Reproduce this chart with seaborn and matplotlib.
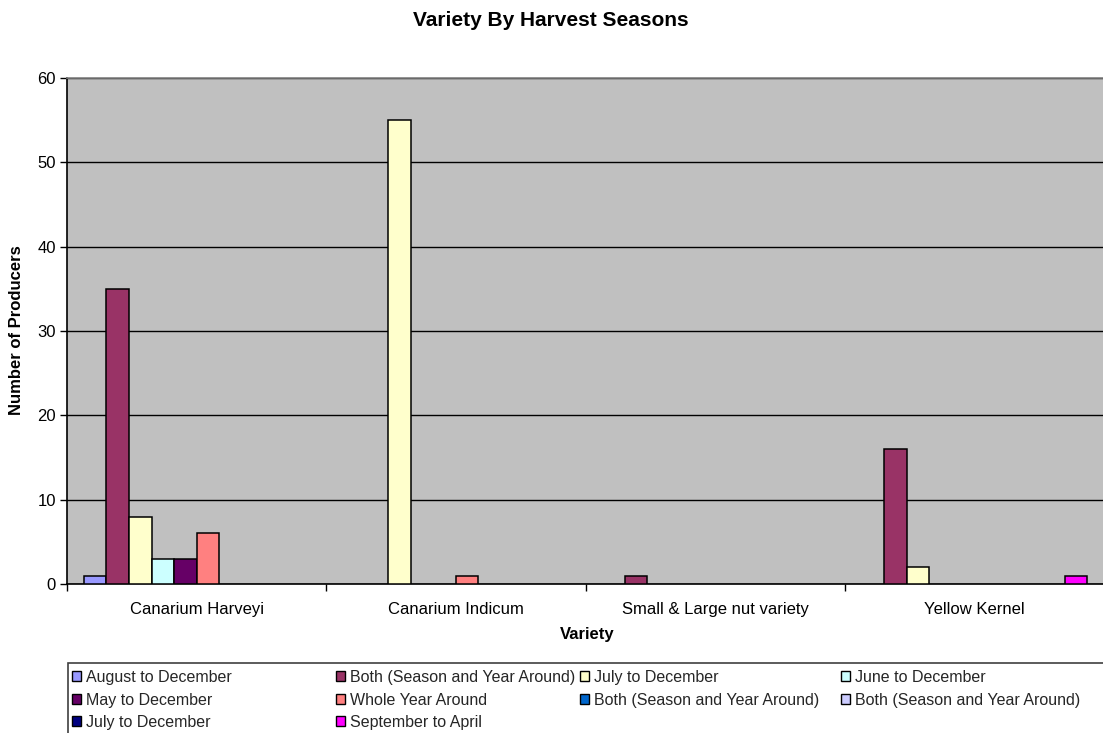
import pandas as pd
import seaborn as sns
import matplotlib.pyplot as plt
from matplotlib.patches import Patch, Rectangle

# ---- data -------------------------------------------------------------
varieties = ["Canarium Harveyi", "Canarium Indicum",
             "Small & Large nut variety", "Yellow Kernel"]

series_keys = ["aug_dec", "both_1", "jul_dec_1", "jun_dec", "may_dec",
               "whole_year", "both_2", "both_3", "jul_dec_2", "sep_apr"]
series_labels = ["August to December", "Both (Season and Year Around)",
                 "July to December", "June to December", "May to December",
                 "Whole Year Around", "Both (Season and Year Around)",
                 "Both (Season and Year Around)", "July to December",
                 "September to April"]
series_colors = ["#9999FF", "#993366", "#FFFFCC", "#CCFFFF", "#660066",
                 "#FF8080", "#0066CC", "#CCCCFF", "#000080", "#FF00FF"]

aug_dec = [1, 0, 0, 0]
both_1 = [35, 0, 1, 16]
jul_dec_1 = [8, 55, 0, 2]
jun_dec = [3, 0, 0, 0]
may_dec = [3, 0, 0, 0]
whole_year = [6, 1, 0, 0]
both_2 = [0, 0, 0, 0]
both_3 = [0, 0, 0, 0]
jul_dec_2 = [0, 0, 0, 0]
sep_apr = [0, 0, 0, 1]

values = [aug_dec, both_1, jul_dec_1, jun_dec, may_dec,
          whole_year, both_2, both_3, jul_dec_2, sep_apr]

y_ticks = [0, 10, 20, 30, 40, 50, 60]

rows = []
for key, vals in zip(series_keys, values):
    for variety, v in zip(varieties, vals):
        if v > 0:
            rows.append({"Variety": variety, "Series": key, "Producers": v})
df = pd.DataFrame(rows)

# ---- figure -----------------------------------------------------------
sns.set_theme(style="white")
plt.rcParams["font.family"] = ["Liberation Sans", "DejaVu Sans"]

W, H = 1103, 733
fig = plt.figure(figsize=(W / 100, H / 100), dpi=100)
fig.patch.set_facecolor("white")

left, right, top, bottom = 67, 1104, 78, 584
ax = fig.add_axes([left / W, 1 - bottom / H, (right - left) / W, (bottom - top) / H])
ax.set_facecolor("#C0C0C0")

sns.barplot(data=df, x="Variety", y="Producers", hue="Series",
            order=varieties, hue_order=series_keys,
            palette=dict(zip(series_keys, series_colors)),
            width=10 / 11.5, saturation=1, errorbar=None,
            edgecolor="black", linewidth=1.1, legend=False,
            ax=ax, zorder=3)

ax.set_xlim(-0.5, len(varieties) - 0.5)
ax.set_ylim(y_ticks[0], y_ticks[-1])
ax.set_yticks(y_ticks)
ax.set_axisbelow(True)
ax.yaxis.grid(True, color="black", linewidth=1)
ax.xaxis.grid(False)

# category boundaries get the tick marks, names sit between them
ax.set_xticks([i - 0.5 for i in range(len(varieties) + 1)])
ax.set_xticklabels([])
ax.set_xticks(range(len(varieties)), minor=True)
ax.set_xticklabels(varieties, minor=True, fontsize=12)
ax.tick_params(axis="x", which="major", length=5, width=1, color="black",
               direction="out", bottom=True)
ax.tick_params(axis="x", which="minor", length=0, pad=13, colors="black")
ax.tick_params(axis="y", length=5, width=1, color="black", direction="out",
               left=True, labelsize=12, pad=3, labelcolor="black")
ax.set_xlabel("")
ax.set_ylabel("")

for side in ("left", "bottom"):
    ax.spines[side].set_color("black")
    ax.spines[side].set_linewidth(1.2)
ax.spines["top"].set_color("#808080")
ax.spines["top"].set_linewidth(1.2)
ax.spines["right"].set_visible(False)

# ---- titles -----------------------------------------------------------
fig.text(551 / W, 1 - 20 / H, "Variety By Harvest Seasons", ha="center",
         va="center", fontsize=15, fontweight="bold", color="black")
fig.text(587 / W, 1 - 635 / H, "Variety", ha="center", va="center",
         fontsize=12, fontweight="bold", color="black")
fig.text(17 / W, 1 - 330 / H, "Number of Producers", ha="center",
         va="center", rotation=90, fontsize=12, fontweight="bold",
         color="black")

# ---- legend -----------------------------------------------------------
fig.add_artist(Rectangle((68 / W, -0.05), 1.0, 1 - 663 / H + 0.05,
                         transform=fig.transFigure, fill=False,
                         edgecolor="#404040", linewidth=1.2))

handles = [Patch(facecolor=c, edgecolor="black", linewidth=1.0)
           for c in series_colors]
col_x = [72, 336, 580, 841]
for col, x in enumerate(col_x):
    idx = list(range(col, len(series_keys), 4))
    fig.legend([handles[i] for i in idx], [series_labels[i] for i in idx],
               loc="upper left", bbox_to_anchor=(x / W, 1 - 670 / H),
               frameon=False, fontsize=11.5, handlelength=0.58,
               handleheight=0.58, handletextpad=0.3, labelspacing=0.47,
               borderpad=0, borderaxespad=0)

fig.savefig("out.png", dpi=100, facecolor="white")
